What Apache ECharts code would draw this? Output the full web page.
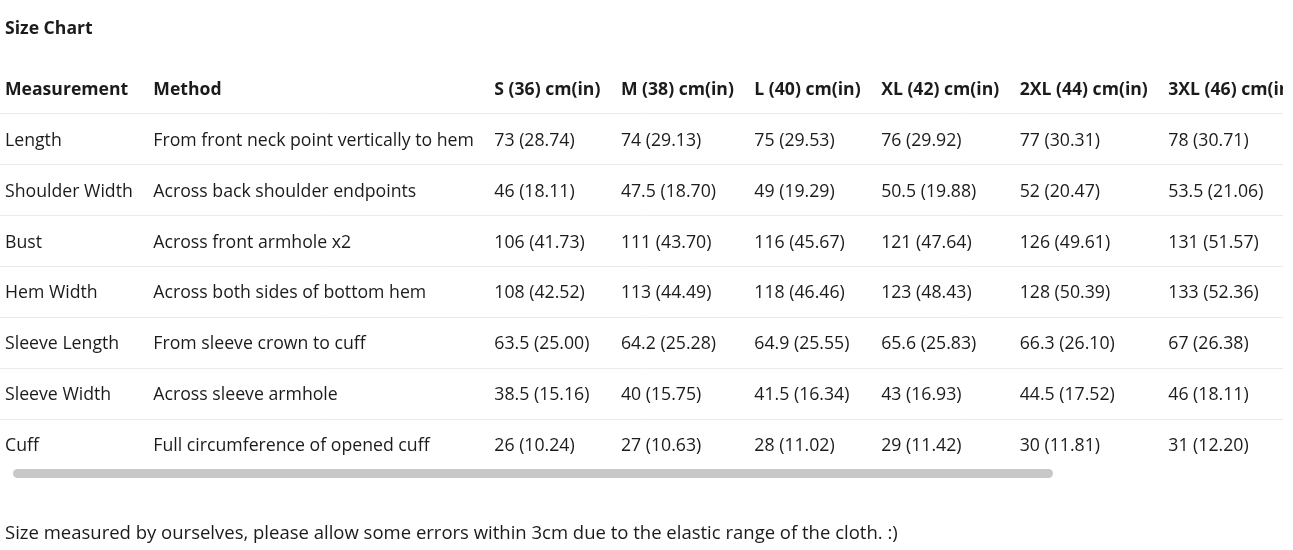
<!DOCTYPE html>
<html>
<head>
<meta charset="utf-8">
<title>Size Chart</title>
<script src="https://cdn.jsdelivr.net/npm/echarts@6/dist/echarts.min.js"></script>
<style>
  html, body { margin: 0; padding: 0; background: #fff; }
  #chart { width: 1293px; height: 550px; }
</style>
</head>
<body>
<div id="chart"></div>
<script>
// table content
const headers = ['Measurement', 'Method'];
const sizes = ['S (36)', 'M (38)', 'L (40)', 'XL (42)', '2XL (44)', '3XL (46)'];
const measurements = ['Length', 'Shoulder Width', 'Bust', 'Hem Width', 'Sleeve Length', 'Sleeve Width', 'Cuff'];
const methods = [
  'From front neck point vertically to hem',
  'Across back shoulder endpoints',
  'Across front armhole x2',
  'Across both sides of bottom hem',
  'From sleeve crown to cuff',
  'Across sleeve armhole',
  'Full circumference of opened cuff'
];
const cmValues = [
  [73, 74, 75, 76, 77, 78],
  [46, 47.5, 49, 50.5, 52, 53.5],
  [106, 111, 116, 121, 126, 131],
  [108, 113, 118, 123, 128, 133],
  [63.5, 64.2, 64.9, 65.6, 66.3, 67],
  [38.5, 40, 41.5, 43, 44.5, 46],
  [26, 27, 28, 29, 30, 31]
];
const inValues = [
  [28.74, 29.13, 29.53, 29.92, 30.31, 30.71],
  [18.11, 18.70, 19.29, 19.88, 20.47, 21.06],
  [41.73, 43.70, 45.67, 47.64, 49.61, 51.57],
  [42.52, 44.49, 46.46, 48.43, 50.39, 52.36],
  [25.00, 25.28, 25.55, 25.83, 26.10, 26.38],
  [15.16, 15.75, 16.34, 16.93, 17.52, 18.11],
  [10.24, 10.63, 11.02, 11.42, 11.81, 12.20]
];
const titleText = 'Size Chart';
const noteText = 'Size measured by ourselves, please allow some errors within 3cm due to the elastic range of the cloth. :)';

const FONT = '"Open Sans", "Noto Sans", sans-serif';
const BODY_SIZE = 17.7;
const HEAD_SIZE = 17.6;
const NOTE_SIZE = 18.5;
const TEXT_COLOR = '#1b1b1b';
const CELL_GAP = 20.5;

// build rows: first row is the header
const headerRow = headers.concat(sizes.map(function (s) { return s + ' cm(in)'; }));
const bodyRows = measurements.map(function (m, i) {
  return [m, methods[i]].concat(cmValues[i].map(function (v, j) {
    return v + ' (' + inValues[i][j].toFixed(2) + ')';
  }));
});
const rows = [headerRow].concat(bodyRows);
const rowNames = ['header'].concat(measurements);

function cellFont(bold) {
  return bold ? 'bold ' + HEAD_SIZE + 'px ' + FONT : BODY_SIZE + 'px ' + FONT;
}

// auto column widths, like an html table
const ctx = document.createElement('canvas').getContext('2d');
function textWidth(str, bold) {
  ctx.font = cellFont(bold);
  return ctx.measureText(str).width;
}
const colLeft = [];
let x = 5;
for (let c = 0; c < headerRow.length; c++) {
  colLeft.push(x);
  let w = 0;
  rows.forEach(function (row, r) {
    w = Math.max(w, textWidth(row[c], r === 0));
  });
  x += w + CELL_GAP;
}

const cellData = [];
rows.forEach(function (row, r) {
  row.forEach(function (txt, c) {
    cellData.push([colLeft[c], r, txt]);
  });
});
const lineData = rowNames.slice(0, rowNames.length - 1).map(function (n, r) { return [0, r]; });

const chart = echarts.init(document.getElementById('chart'));
chart.setOption({
  animation: false,
  title: [{
    text: titleText,
    left: 5,
    top: 17,
    padding: 0,
    textStyle: { fontFamily: FONT, fontSize: HEAD_SIZE, fontWeight: 'bold', color: TEXT_COLOR, lineHeight: 24 }
  }, {
    text: noteText,
    left: 5,
    top: 522,
    padding: 0,
    textStyle: { fontFamily: FONT, fontSize: NOTE_SIZE, fontWeight: 'normal', color: TEXT_COLOR, lineHeight: 24 }
  }],
  grid: { left: 0, right: 10, top: 62.6, bottom: 80.6, containLabel: false },
  xAxis: { type: 'value', min: 0, max: 1283, show: false },
  yAxis: {
    type: 'category',
    data: rowNames,
    inverse: true,
    show: false
  },
  graphic: [{
    type: 'rect',
    left: 13,
    top: 469,
    shape: { width: 1040, height: 9, r: 4.5 },
    style: { fill: '#c8c8c8' }
  }],
  series: [{
    // row separators
    type: 'custom',
    silent: true,
    data: lineData,
    renderItem: function (params, api) {
      const cs = params.coordSys;
      const p = api.coord([0, api.value(1)]);
      const y = Math.round(p[1] + api.size([0, 1])[1] / 2) + 0.5;
      return {
        type: 'line',
        shape: { x1: cs.x, y1: y, x2: cs.x + cs.width, y2: y },
        style: { stroke: '#ebebeb', lineWidth: 1 }
      };
    }
  }, {
    // cell texts
    type: 'custom',
    silent: true,
    clip: true,
    data: cellData,
    encode: { x: 0, y: 1 },
    renderItem: function (params, api) {
      const cs = params.coordSys;
      const p = api.coord([api.value(0), api.value(1)]);
      const item = cellData[params.dataIndex];
      return {
        type: 'group',
        clipPath: { type: 'rect', shape: { x: cs.x, y: cs.y, width: cs.width, height: cs.height } },
        children: [{
          type: 'text',
          x: p[0],
          y: p[1] + 2,
          style: {
            text: item[2],
            fill: TEXT_COLOR,
            font: cellFont(item[1] === 0),
            align: 'left',
            verticalAlign: 'middle'
          }
        }]
      };
    }
  }]
});
</script>
</body>
</html>
